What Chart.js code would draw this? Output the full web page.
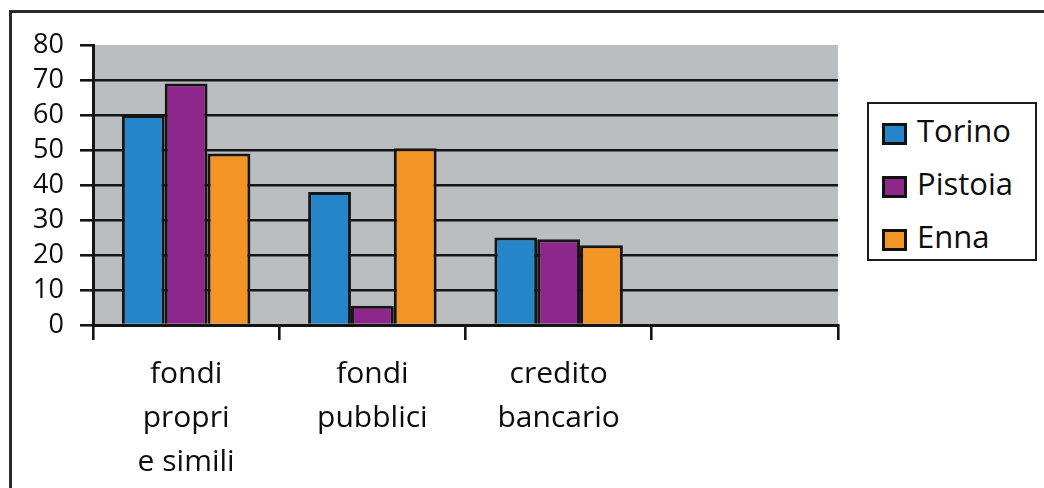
<!DOCTYPE html>
<html>
<head>
<meta charset="utf-8">
<script src="https://cdn.jsdelivr.net/npm/chart.js@4.4.1/dist/chart.umd.min.js"></script>
<style>
  html, body { margin: 0; padding: 0; background: #fff; overflow: hidden; }
  #wrap { position: relative; width: 1044px; height: 488px; }
  #frame { position: absolute; left: 9px; top: 10px; width: 1060px; height: 520px; border: 3px solid #2a2a2a; box-sizing: border-box; }
  canvas { position: absolute; left: 0; top: 0; }
  #legend { position: absolute; left: 867px; top: 102px; width: 170px; height: 159px; border: 2px solid #1a1a1a; box-sizing: border-box; background: #fff;
            font-family: "Open Sans", sans-serif; font-size: 31px; color: #0d0d0d; }
  .item { position: absolute; left: 13px; height: 30px; line-height: 30px; white-space: nowrap; }
  .sw { position: absolute; left: 0; top: 5px; width: 19px; height: 16px; border: 3px solid #111; }
  .lbl { position: absolute; left: 35px; top: -3px; }
</style>
</head>
<body>
<div id="wrap">
  <div id="frame"></div>
  <canvas id="c" width="1044" height="488"></canvas>
  <div id="legend"></div>
</div>
<script>
const categories = [["fondi", "propri", "e simili"], ["fondi", "pubblici"], ["credito", "bancario"], ""];
const seriesNames = ["Torino", "Pistoia", "Enna"];
const torino = [60, 38, 25, null];
const pistoia = [69, 5.5, 24.5, null];
const enna = [49, 50.5, 22.8, null];
const seriesColors = ["#2585C9", "#8E278B", "#F49425"];
const yTicks = [0, 10, 20, 30, 40, 50, 60, 70, 80];

const values = [torino, pistoia, enna];

const plotBg = {
  id: 'plotBg',
  beforeDraw(chart) {
    const {ctx, chartArea: a} = chart;
    ctx.save();
    ctx.fillStyle = '#BBBEC1';
    ctx.fillRect(a.left, a.top, a.right - a.left, a.bottom - a.top);
    ctx.restore();
  }
};

const FONT = '"Open Sans", sans-serif';

new Chart(document.getElementById('c'), {
  type: 'bar',
  data: {
    labels: categories,
    datasets: seriesNames.map((n, i) => ({
      label: n,
      data: values[i],
      backgroundColor: seriesColors[i],
      borderColor: '#151515',
      borderWidth: 3,
      barPercentage: 1.0,
      categoryPercentage: 0.69
    }))
  },
  options: {
    responsive: false,
    animation: false,
    layout: { padding: { left: 0, top: 45, right: 206, bottom: 0 } },
    plugins: { legend: { display: false }, tooltip: { enabled: false } },
    scales: {
      y: {
        min: 0, max: 80,
        afterBuildTicks(scale) { scale.ticks = yTicks.map(v => ({ value: v })); },
        afterFit(scale) { scale.width = 93; },
        border: { display: true, color: '#151515', width: 3 },
        grid: {
          color: ctx => (ctx.tick && ctx.tick.value === 80) ? 'rgba(0,0,0,0)' : '#151515',
          tickColor: '#151515',
          lineWidth: 2.6,
          tickLength: 13,
          drawTicks: true
        },
        ticks: { color: '#0d0d0d', font: { family: FONT, size: 27, lineHeight: 1.0 }, padding: 16, autoSkip: false }
      },
      x: {
        afterFit(scale) { scale.height = 163; },
        border: { display: true, color: '#151515', width: 3 },
        grid: {
          drawOnChartArea: false,
          drawTicks: true,
          tickLength: 15,
          color: '#151515',
          lineWidth: 2.6,
          offset: true
        },
        ticks: { color: '#0d0d0d', font: { family: FONT, size: 30, lineHeight: 1.47 }, padding: 12, maxRotation: 0, autoSkip: false }
      }
    }
  },
  plugins: [plotBg]
});

const legend = document.getElementById('legend');
const tops = [14, 67, 120];
seriesNames.forEach((n, i) => {
  const it = document.createElement('div');
  it.className = 'item';
  it.style.top = tops[i] + 'px';
  it.innerHTML = '<span class="sw" style="background:' + seriesColors[i] + '"></span><span class="lbl"></span>';
  it.querySelector('.lbl').textContent = n;
  legend.appendChild(it);
});
</script>
</body>
</html>
